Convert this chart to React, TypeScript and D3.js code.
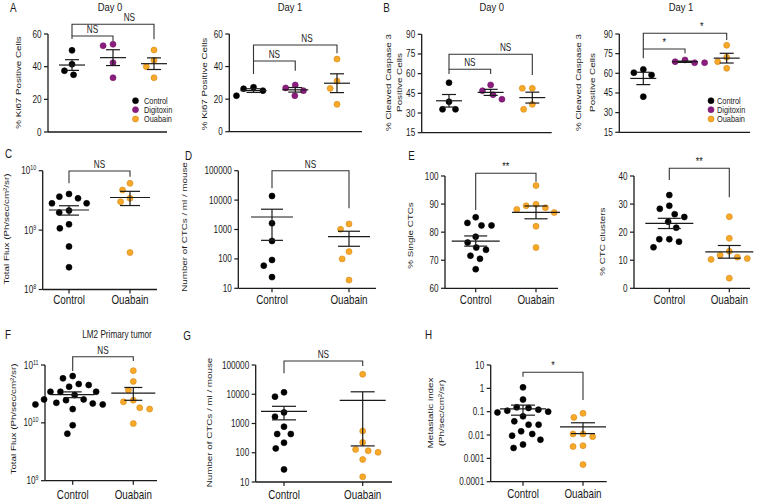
import React from "react";
import { scaleLinear, scaleLog, scalePoint, mean, deviation } from "d3";

// ---- data ----
const groups3 = ["Control", "Digitoxin", "Ouabain"];
const groups2 = ["Control", "Ouabain"];

// A: % Ki67 positive cells
const ki67Day0Control = [50, 41.5, 37.5, 35];
const ki67Day0Digitoxin = [53.7, 52.8, 42.4, 33.2];
const ki67Day0Ouabain = [50.2, 43.9, 40, 33.2];
const ki67Day1Control = [27.3, 26.4, 25.2, 22.1];
const ki67Day1Digitoxin = [28.7, 26.9, 25.2, 22.1];
const ki67Day1Ouabain = [44.6, 31.1, 26.6, 16.8];

// B: % cleaved caspase 3 positive cells
const casp3Day0Control = [53.1, 38.6, 32.8, 32.8];
const casp3Day0Digitoxin = [51.4, 47, 44, 40.5];
const casp3Day0Ouabain = [48.8, 48.8, 36.6, 32.8];
const casp3Day1Control = [63, 60.5, 58.7, 42.2];
const casp3Day1Digitoxin = [70.2, 68.9, 68.1, 68.1];
const casp3Day1Ouabain = [81.4, 72.2, 68.9, 63.8];

// C: total flux
const fluxControl = [4.06e9, 3.66e9, 3.43e9, 2.82e9, 2.82e9, 2.13e9, 1.97e9, 1.25e9, 1.07e9, 5.3e8, 2.37e8];
const fluxOuabain = [6.12e9, 4.73e9, 3.43e9, 3.01e9, 4.19e8];

// D: CTCs / ml / mouse
const ctcControl = [13770, 1625, 407, 92, 59, 24];
const ctcOuabain = [1541, 1016, 177, 100, 19];

// E: single CTCs / clusters
const singleControl = [85.3, 83.3, 82.4, 82.4, 78.4, 76.3, 74.5, 73.7, 71.6, 70.5, 66.8];
const singleOuabain = [96.6, 89.9, 89.4, 88.7, 88.1, 87.0, 82.1, 74.5];
const clusterControl = [33.2, 29.4, 28.3, 26.4, 25.4, 23.7, 21.6, 17.5, 17.5, 16.6, 14.6];
const clusterOuabain = [25.5, 17.8, 13.2, 11.8, 11.1, 10.6, 10.3, 3.6];

// F: LM2 primary tumor flux
const lm2FluxControl = [
  6.44e10, 5.88e10, 4.69e10, 4.5e10, 4.21e10, 3.45e10, 3.45e10, 3.45e10, 3.02e10, 2.54e10,
  2.54e10, 2.47e10, 2.22e10, 2.16e10, 2.08e10, 2.08e10, 1.73e10, 9.1e9, 6.5e9,
];
const lm2FluxOuabain = [7.98e10, 5.21e10, 3.68e10, 2.47e10, 2.31e10, 1.82e10, 1.73e10, 9.7e9];

// G: LM2 CTCs
const lm2CtcControl = [11600, 8260, 2400, 1710, 778, 437, 437, 220, 141, 27];
const lm2CtcOuabain = [48000, 552, 226, 130, 117, 103, 59, 15];

// H: metastatic index
const metControl = [
  1.1, 0.33, 0.153, 0.145, 0.122, 0.11, 0.1, 0.093, 0.063, 0.0385, 0.0278, 0.0278, 0.0144,
  0.0111, 0.0094, 0.0063, 0.0039, 0.0028,
];
const metOuabain = [0.085, 0.057, 0.0111, 0.0111, 0.0085, 0.0035, 0.0032, 0.00054];

const ticksKi67 = [0, 20, 40, 60];
const ticksCasp3 = [15, 30, 45, 60, 75, 90];
const ticksFlux = [1e8, 1e9, 1e10];
const ticksCtc = [10, 100, 1000, 10000, 100000];
const ticksSingle = [60, 70, 80, 90, 100];
const ticksCluster = [0, 10, 20, 30, 40];
const ticksLm2Flux = [1e9, 1e10, 1e11];
const ticksMet = [0.0001, 0.001, 0.01, 0.1, 1, 10];

// ---- styling ----
const FONT = "'Liberation Sans', Arial, Helvetica, sans-serif";
const SX = 0.82; // figure text is horizontally condensed
const INK = "#1a1a1a";
const colors: Record<string, { fill: string; stroke: string }> = {
  Control: { fill: "#000000", stroke: "#000000" },
  Digitoxin: { fill: "#8c1d80", stroke: "#6e1565" },
  Ouabain: { fill: "#f8a927", stroke: "#d4861a" },
};
const R = 3;

type TxtProps = {
  x: number;
  y: number;
  size: number;
  anchor?: "start" | "middle" | "end";
  rot?: boolean;
  children: React.ReactNode;
};
const Txt = ({ x, y, size, anchor = "start", rot = false, children }: TxtProps) => (
  <text
    transform={`translate(${x},${y}) scale(${SX},1)${rot ? " rotate(-90)" : ""}`}
    fontSize={size}
    textAnchor={anchor}
    fontFamily={FONT}
    fill={INK}
  >
    {children}
  </text>
);

// simple beeswarm: offsets (px) so dots do not overlap
function swarm(ys: number[], d: number): number[] {
  const order = ys.map((_, i) => i).sort((a, b) => ys[a] - ys[b]);
  const placed: { x: number; y: number }[] = [];
  const out = new Array(ys.length).fill(0);
  for (const i of order) {
    const yi = ys[i];
    const blocks = placed
      .filter((p) => Math.abs(p.y - yi) < d)
      .map((p) => {
        const w = Math.sqrt(d * d - (p.y - yi) ** 2);
        return [p.x - w, p.x + w];
      });
    const cands = [0, ...blocks.flat()].sort((a, b) => Math.abs(a) - Math.abs(b));
    const xi =
      cands.find((c) => blocks.every(([l, r]) => c <= l + 1e-6 || c >= r - 1e-6)) ?? 0;
    out[i] = xi;
    placed.push({ x: xi, y: yi });
  }
  return out;
}

type Bracket = { a: number; b: number; y: number; da: number; db: number; label: string; f?: number };
type PanelSpec = {
  letter: [string, number, number];
  title?: [string, number, number, number];
  axisX: [number, number];
  plotY: [number, number];
  catX: [number, number];
  domain: [number, number];
  log: boolean;
  ticks: number[];
  pow?: boolean;
  yLabel: [string, number][];
  yLabelY: number;
  names: string[];
  values: number[][];
  brackets: Bracket[];
  bars: [number, number];
  legend?: { cx: number; tx: number; ys: number[] };
  xLabelY?: number;
};

const Panel = ({ p }: { p: PanelSpec }) => {
  const [yTop, yBot] = p.plotY;
  const y = (p.log ? scaleLog() : scaleLinear()).domain(p.domain).range([yBot, yTop]);
  const x = scalePoint<string>().domain(p.names).range(p.catX);
  const ax = p.axisX[0];
  const [mh, sh] = p.bars;

  return (
    <g>
      <Txt x={p.letter[1]} y={p.letter[2]} size={12}>
        {p.letter[0]}
      </Txt>
      {p.title && (
        <Txt x={p.title[1]} y={p.title[2]} size={p.title[3]} anchor="middle">
          {p.title[0]}
        </Txt>
      )}
      {p.yLabel.map(([t, lx], i) => (
        <Txt key={i} x={lx} y={p.yLabelY} size={9.8} anchor="middle" rot>
          {t}
        </Txt>
      ))}

      {/* axes */}
      <line x1={ax} x2={ax} y1={yTop} y2={yBot} stroke={INK} strokeWidth={1.3} />
      <line x1={ax} x2={p.axisX[1]} y1={yBot} y2={yBot} stroke={INK} strokeWidth={1.3} />
      {p.ticks.map((t, i) => (
        <g key={i}>
          <line x1={ax - 4} x2={ax} y1={y(t)} y2={y(t)} stroke={INK} strokeWidth={1.2} />
          {p.pow ? (
            <Txt x={ax - 6.5} y={y(t) + 3.5} size={10} anchor="end">
              10
              <tspan fontSize={6.5} dy={-4}>
                {Math.round(Math.log10(t))}
              </tspan>
            </Txt>
          ) : (
            <Txt x={ax - 6.5} y={y(t) + 3.5} size={10} anchor="end">
              {String(t)}
            </Txt>
          )}
        </g>
      ))}
      {p.xLabelY !== undefined &&
        p.names.map((n) => (
          <g key={n}>
            <line x1={x(n)!} x2={x(n)!} y1={yBot} y2={yBot + 4} stroke={INK} strokeWidth={1.2} />
            <Txt x={x(n)!} y={p.xLabelY!} size={12} anchor="middle">
              {n}
            </Txt>
          </g>
        ))}

      {/* brackets */}
      {p.brackets.map((b, i) => {
        const xa = x(p.names[b.a])!;
        const xb = x(p.names[b.b])!;
        const lx = xa + (xb - xa) * (b.f ?? 0.5);
        return (
          <g key={i}>
            <path
              d={`M${xa},${b.da}V${b.y}H${xb}V${b.db}`}
              fill="none"
              stroke="#333"
              strokeWidth={1.1}
            />
            <Txt x={lx} y={b.y - 3} size={b.label === "NS" ? 10 : 11} anchor="middle">
              {b.label}
            </Txt>
          </g>
        );
      })}

      {/* points */}
      {p.names.map((n, gi) => {
        const vals = p.values[gi];
        const ys = vals.map((v) => y(v));
        const off = swarm(ys, 2 * R + 4);
        const c = colors[n];
        return (
          <g key={n}>
            {vals.map((v, i) => (
              <circle
                key={i}
                cx={x(n)! + off[i]}
                cy={ys[i]}
                r={R}
                fill={c.fill}
                stroke={c.stroke}
                strokeWidth={0.6}
              />
            ))}
          </g>
        );
      })}

      {/* mean +/- SEM */}
      {p.names.map((n, gi) => {
        const vals = p.values[gi];
        const m = mean(vals)!;
        const sem = deviation(vals)! / Math.sqrt(vals.length);
        const lo = Math.max(m - sem, p.domain[0]);
        const hi = m + sem;
        const cx = x(n)!;
        return (
          <g key={n} stroke={INK} strokeWidth={1.2}>
            <line x1={cx - mh} x2={cx + mh} y1={y(m)} y2={y(m)} />
            <line x1={cx} x2={cx} y1={y(lo)} y2={y(hi)} />
            <line x1={cx - sh} x2={cx + sh} y1={y(lo)} y2={y(lo)} />
            <line x1={cx - sh} x2={cx + sh} y1={y(hi)} y2={y(hi)} />
          </g>
        );
      })}

      {p.legend &&
        p.names.map((n, i) => (
          <g key={n}>
            <circle
              cx={p.legend!.cx}
              cy={p.legend!.ys[i]}
              r={R}
              fill={colors[n].fill}
              stroke={colors[n].stroke}
              strokeWidth={0.6}
            />
            <Txt x={p.legend!.tx} y={p.legend!.ys[i] + 3} size={9}>
              {n}
            </Txt>
          </g>
        ))}
    </g>
  );
};

const panels: PanelSpec[] = [
  {
    letter: ["A", 10, 11.7],
    title: ["Day 0", 110, 10.5, 11.5],
    axisX: [48, 167],
    plotY: [34, 132],
    catX: [72, 154],
    domain: [0, 60],
    log: false,
    ticks: ticksKi67,
    yLabel: [["% Ki67 Positive Cells", 20.5]],
    yLabelY: 82.5,
    names: groups3,
    values: [ki67Day0Control, ki67Day0Digitoxin, ki67Day0Ouabain],
    brackets: [
      { a: 0, b: 1, y: 36, da: 39, db: 41, label: "NS" },
      { a: 0, b: 2, y: 24.3, da: 36, db: 39.3, label: "NS", f: 0.7 },
    ],
    bars: [13, 7],
    legend: { cx: 135.5, tx: 144, ys: [100.7, 109.7, 119] },
  },
  {
    letter: ["", 0, 0],
    title: ["Day 1", 290, 10.5, 11.5],
    axisX: [229.3, 362],
    plotY: [34, 131.7],
    catX: [253.5, 337],
    domain: [0, 60],
    log: false,
    ticks: ticksKi67,
    yLabel: [["% Ki67 Positive Cells", 206.5]],
    yLabelY: 84,
    names: groups3,
    values: [ki67Day1Control, ki67Day1Digitoxin, ki67Day1Ouabain],
    brackets: [
      { a: 0, b: 1, y: 61, da: 74, db: 70.7, label: "NS" },
      { a: 0, b: 2, y: 45, da: 61, db: 53.3, label: "NS", f: 0.64 },
    ],
    bars: [13, 7],
  },
  {
    letter: ["B", 383.3, 11.7],
    title: ["Day 0", 491.7, 10.5, 11.5],
    axisX: [421.7, 551.7],
    plotY: [34.3, 132.7],
    catX: [449, 532.3],
    domain: [15, 90],
    log: false,
    ticks: ticksCasp3,
    yLabel: [
      ["% Cleaved Caspase 3", 390.5],
      ["Positive Cells", 401.5],
    ],
    yLabelY: 82.5,
    names: groups3,
    values: [casp3Day0Control, casp3Day0Digitoxin, casp3Day0Ouabain],
    brackets: [
      { a: 0, b: 1, y: 69.3, da: 74, db: 74, label: "NS" },
      { a: 0, b: 2, y: 54.3, da: 69.3, db: 75, label: "NS", f: 0.68 },
    ],
    bars: [13, 7],
  },
  {
    letter: ["", 0, 0],
    title: ["Day 1", 681, 10.5, 11.5],
    axisX: [619.3, 750],
    plotY: [34, 132.3],
    catX: [643.3, 726.7],
    domain: [15, 90],
    log: false,
    ticks: ticksCasp3,
    yLabel: [
      ["% Cleaved Caspase 3", 580.5],
      ["Positive Cells", 595],
    ],
    yLabelY: 82.5,
    names: groups3,
    values: [casp3Day1Control, casp3Day1Digitoxin, casp3Day1Ouabain],
    brackets: [
      { a: 0, b: 1, y: 49, da: 58.3, db: 53.3, label: "*" },
      { a: 0, b: 2, y: 33.3, da: 49, db: 40, label: "*", f: 0.7 },
    ],
    bars: [13, 7],
    legend: { cx: 711, tx: 717, ys: [100.7, 109.7, 119] },
  },
  {
    letter: ["C", 5, 158.3],
    axisX: [42.7, 157],
    plotY: [170.7, 289.5],
    catX: [69, 130],
    domain: [1e8, 1e10],
    log: true,
    pow: true,
    ticks: ticksFlux,
    yLabel: [["Total Flux (Ph/sec/cm²/sr)", 9]],
    yLabelY: 229,
    names: groups2,
    values: [fluxControl, fluxOuabain],
    brackets: [{ a: 0, b: 1, y: 171, da: 183.3, db: 176.7, label: "NS" }],
    bars: [20, 10],
    xLabelY: 304,
  },
  {
    letter: ["D", 185, 160],
    axisX: [238.3, 376],
    plotY: [170.7, 288.3],
    catX: [272, 349],
    domain: [10, 1e5],
    log: true,
    ticks: ticksCtc,
    yLabel: [["Number of CTCs / ml / mouse", 187]],
    yLabelY: 227,
    names: groups2,
    values: [ctcControl, ctcOuabain],
    brackets: [{ a: 0, b: 1, y: 170.7, da: 188.3, db: 208.3, label: "NS" }],
    bars: [21, 11],
    xLabelY: 304,
  },
  {
    letter: ["E", 408.3, 160],
    axisX: [445, 558],
    plotY: [176, 288.3],
    catX: [475.7, 536],
    domain: [60, 100],
    log: false,
    ticks: ticksSingle,
    yLabel: [["% Single CTCs", 413]],
    yLabelY: 235.5,
    names: groups2,
    values: [singleControl, singleOuabain],
    brackets: [{ a: 0, b: 1, y: 173.3, da: 210, db: 181.7, label: "**" }],
    bars: [24, 11.5],
    xLabelY: 304,
  },
  {
    letter: ["", 0, 0],
    axisX: [634, 750],
    plotY: [176, 288.3],
    catX: [669.3, 729.3],
    domain: [0, 40],
    log: false,
    ticks: ticksCluster,
    yLabel: [["% CTC clusters", 605]],
    yLabelY: 241.7,
    names: groups2,
    values: [clusterControl, clusterOuabain],
    brackets: [{ a: 0, b: 1, y: 168.3, da: 180, db: 197.3, label: "**" }],
    bars: [24, 11.5],
    xLabelY: 304,
  },
  {
    letter: ["F", 5, 339.3],
    title: ["LM2 Primary tumor", 117, 338.3, 10],
    axisX: [45, 157],
    plotY: [365, 480.7],
    catX: [72.7, 133.3],
    domain: [1e9, 1e11],
    log: true,
    pow: true,
    ticks: ticksLm2Flux,
    yLabel: [["Total Flux (Ph/sec/cm²/sr)", 16]],
    yLabelY: 419,
    names: groups2,
    values: [lm2FluxControl, lm2FluxOuabain],
    brackets: [{ a: 0, b: 1, y: 356.7, da: 371, db: 361, label: "NS" }],
    bars: [22, 9],
    xLabelY: 498.7,
  },
  {
    letter: ["G", 183.3, 340],
    axisX: [255.7, 392],
    plotY: [365, 482],
    catX: [284, 362.7],
    domain: [10, 1e5],
    log: true,
    ticks: ticksCtc,
    yLabel: [["Number of CTCs / ml / mouse", 211.5]],
    yLabelY: 422.5,
    names: groups2,
    values: [lm2CtcControl, lm2CtcOuabain],
    brackets: [{ a: 0, b: 1, y: 361, da: 373.3, db: 366, label: "NS" }],
    bars: [23, 12],
    xLabelY: 499,
  },
  {
    letter: ["H", 425, 339],
    axisX: [490.7, 606.7],
    plotY: [365, 481.7],
    catX: [523, 583],
    domain: [0.0001, 10],
    log: true,
    ticks: ticksMet,
    yLabel: [
      ["Metastatic index", 433],
      ["(Ph/sec/cm²/sr)", 444],
    ],
    yLabelY: 413,
    names: groups2,
    values: [metControl, metOuabain],
    brackets: [{ a: 0, b: 1, y: 372.3, da: 376.7, db: 400, label: "*" }],
    bars: [23, 12],
    xLabelY: 498,
  },
];

export default function App() {
  return (
    <svg
      width={757}
      height={503}
      style={{ position: "absolute", left: 0, top: 0, background: "#fff" }}
    >
      {panels.map((p, i) => (
        <Panel key={i} p={p} />
      ))}
    </svg>
  );
}
